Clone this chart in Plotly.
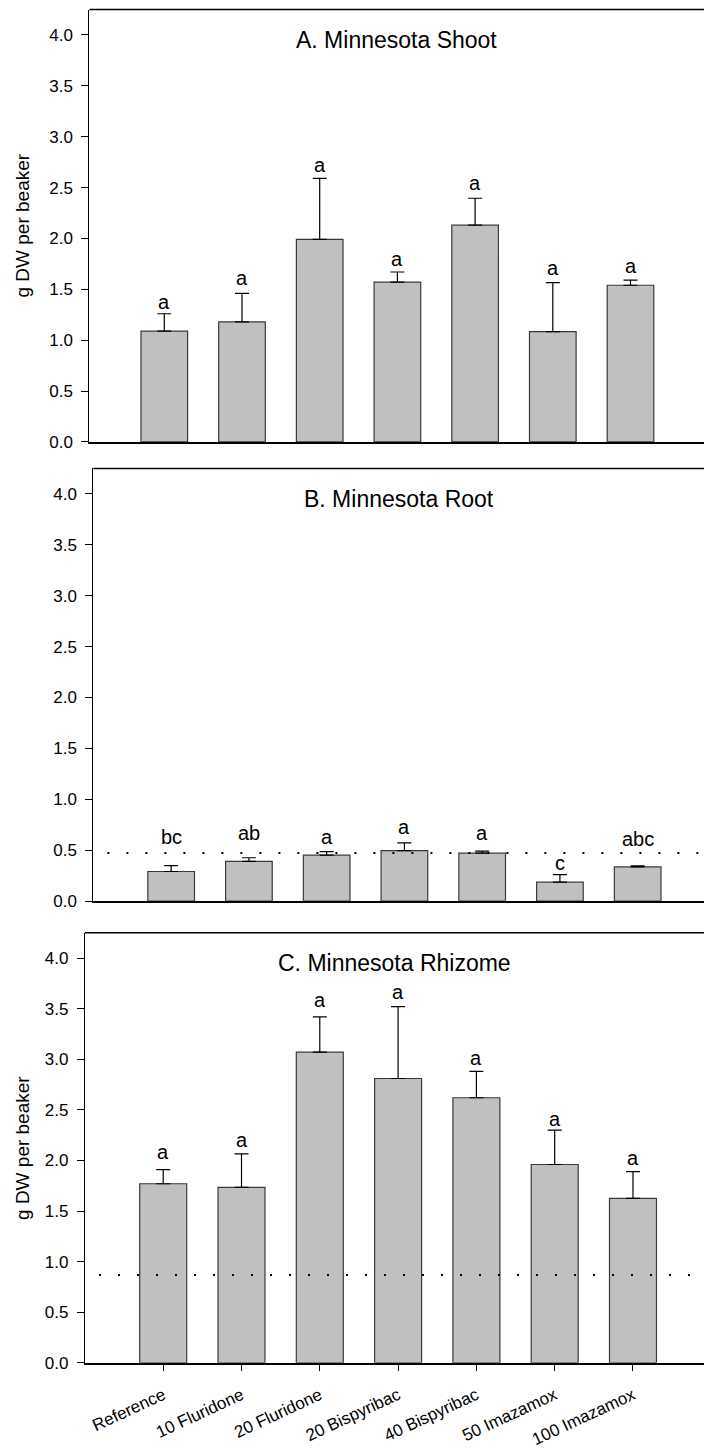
import plotly.graph_objects as go

categories = ["Reference", "10 Fluridone", "20 Fluridone", "20 Bispyribac",
              "40 Bispyribac", "50 Imazamox", "100 Imazamox"]

shoot_mean = [1.09, 1.18, 1.99, 1.57, 2.13, 1.085, 1.54]
shoot_se = [0.17, 0.28, 0.60, 0.10, 0.265, 0.48, 0.05]
shoot_letters = ["a", "a", "a", "a", "a", "a", "a"]
shoot_letter_y = [1.378, 1.615, 2.72, 1.80, 2.54, 1.713, 1.729]

root_mean = [0.29, 0.39, 0.45, 0.495, 0.47, 0.185, 0.335]
root_se = [0.058, 0.035, 0.035, 0.077, 0.02, 0.075, 0.01]
root_letters = ["bc", "ab", "a", "a", "a", "c", "abc"]
root_letter_y = [0.624, 0.673, 0.624, 0.732, 0.673, 0.371, 0.608]
root_ref_line = 0.472

rhizome_mean = [1.77, 1.735, 3.07, 2.81, 2.62, 1.96, 1.625]
rhizome_se = [0.14, 0.33, 0.35, 0.71, 0.26, 0.34, 0.265]
rhizome_letters = ["a", "a", "a", "a", "a", "a", "a"]
rhizome_letter_y = [2.085, 2.206, 3.584, 3.666, 3.011, 2.412, 2.026]
rhizome_ref_line = 0.867

titles = ["A. Minnesota Shoot", "B. Minnesota Root", "C. Minnesota Rhizome"]
y_title = "g DW per beaker"

W, H = 704, 1450
FONT = "Arial, 'Liberation Sans', sans-serif"

panels = [
    dict(mean=shoot_mean, se=shoot_se, letters=shoot_letters, ly=shoot_letter_y,
         ref=None, xdom=[89.4 / W, 1], ydom=[0.6931, 0.9934], xr=[-0.964, 6.946],
         ytitle=True, xlabels=False, ytc=0.8434),
    dict(mean=root_mean, se=root_se, letters=root_letters, ly=root_letter_y,
         ref=root_ref_line, xdom=[93.4 / W, 1], ydom=[0.3743, 0.6747], xr=[-1.0, 6.853],
         ytitle=False, xlabels=False, ytc=None),
    dict(mean=rhizome_mean, se=rhizome_se, letters=rhizome_letters, ly=rhizome_letter_y,
         ref=rhizome_ref_line, xdom=[84.9 / W, 1], ydom=[0.0536, 0.3522], xr=[-1.0, 6.907],
         ytitle=True, xlabels=True, ytc=0.2028),
]

fig = go.Figure()
xpos = list(range(len(categories)))
layout = {}
annotations = []
shapes = []

for i, p in enumerate(panels):
    n = "" if i == 0 else str(i + 1)
    xa, ya = "x" + n, "y" + n
    fig.add_trace(go.Bar(
        x=xpos, y=p["mean"], width=0.6, xaxis=xa, yaxis=ya,
        marker=dict(color="#c0c0c0", line=dict(color="#3a3a3a", width=1.2)),
        error_y=dict(type="data", symmetric=False, array=p["se"],
                     arrayminus=[0] * len(p["se"]), color="black", thickness=1.2, width=7),
        showlegend=False, hoverinfo="skip"))
    layout["xaxis" + n] = dict(
        domain=p["xdom"], anchor=ya, range=p["xr"], showgrid=False, zeroline=False,
        showline=True, linecolor="black", linewidth=2,
        tickmode="array", tickvals=xpos,
        ticktext=categories if p["xlabels"] else [""] * len(categories),
        showticklabels=p["xlabels"],
        ticks="outside" if p["xlabels"] else "", ticklen=6, tickcolor="black", tickwidth=1,
        ticklabelstandoff=8,
        tickangle=-25, tickfont=dict(family=FONT, size=17, color="black"))
    layout["yaxis" + n] = dict(
        domain=p["ydom"], anchor=xa, range=[0, 4.25], showgrid=False, zeroline=False,
        showline=True, linecolor="black", linewidth=1.2,
        tickmode="linear", tick0=0, dtick=0.5, tickformat=".1f",
        ticks="outside", ticklen=7, tickcolor="black", tickwidth=1,
        ticklabelstandoff=5,
        tickfont=dict(family=FONT, size=17, color="black"))
    shapes.append(dict(type="line", xref=xa + " domain", yref=ya + " domain",
                       x0=0, x1=1, y0=1, y1=1, line=dict(color="black", width=1.5)))
    if p["ref"] is not None:
        shapes.append(dict(type="line", xref=xa, yref=ya, x0=-0.82, x1=p["xr"][1],
                           y0=p["ref"], y1=p["ref"], layer="above",
                           line=dict(color="black", width=2, dash="2px,17px")))
    annotations.append(dict(text=titles[i], xref=xa + " domain", yref=ya, x=0.5, y=3.95,
                            showarrow=False, xanchor="center", yanchor="middle",
                            font=dict(family=FONT, size=23, color="black")))
    for xi, lab, ly in zip(xpos, p["letters"], p["ly"]):
        annotations.append(dict(text=lab, xref=xa, yref=ya, x=xi, y=ly, showarrow=False,
                                xanchor="center", yanchor="middle",
                                font=dict(family=FONT, size=20, color="black")))
    if p["ytitle"]:
        annotations.append(dict(text=y_title, xref="paper", yref="paper", x=23 / W,
                                y=p["ytc"], textangle=-90,
                                showarrow=False, xanchor="center", yanchor="middle",
                                font=dict(family=FONT, size=19, color="black")))

fig.update_layout(width=W, height=H, margin=dict(l=0, r=0, t=0, b=0),
                  paper_bgcolor="white", plot_bgcolor="white",
                  annotations=annotations, shapes=shapes, **layout)

fig.write_html("out.html", config={"displayModeBar": False},
               post_script="document.body.style.margin='0';")
